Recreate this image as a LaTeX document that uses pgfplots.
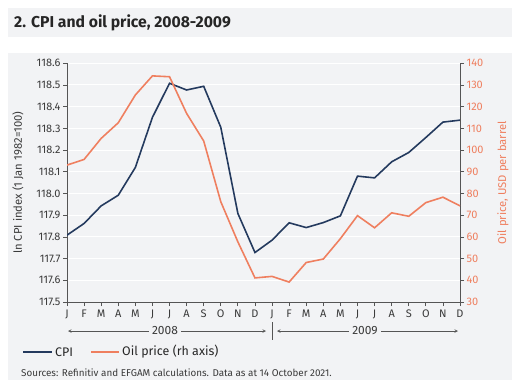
\documentclass[border=0pt]{standalone}
\usepackage{pgfplots}
\pgfplotsset{compat=1.18}
\usepackage{fontspec}
\setmainfont{Fira Sans}
\definecolor{cpi}{HTML}{243A5E}
\definecolor{oil}{HTML}{EF7F5F}
\definecolor{panel}{HTML}{F2F3F5}
\definecolor{axisgrey}{HTML}{555555}
\definecolor{txt}{HTML}{3A3A3A}
\begin{document}
\begin{tikzpicture}[x=1bp,y=1bp]
\path[use as bounding box] (0,0) rectangle (520,384);
\fill[panel] (8,347) rectangle (512,376);
\fill[panel] (8,4) rectangle (512,331);
\node[anchor=base west, inner sep=0pt, font=\fontsize{15.8}{18}\selectfont\bfseries, text=black!85] at (14,356.5) {2. CPI and oil price, 2008-2009};

\pgfplotsset{
  base/.style={
    at={(67bp,82bp)}, anchor=south west, scale only axis,
    width=393bp, height=238.7bp, xmin=0, xmax=23,
    tick align=outside, major tick length=4bp,
    tick style={axisgrey, line width=0.8pt},
    axis line style={axisgrey, line width=0.8pt},
    /pgf/number format/assume math mode=true,
    tick label style={font=\fontsize{11}{13}\selectfont},
  }
}
\begin{axis}[base,
  ymin=117.5, ymax=118.6,
  ytick={117.5,117.6,117.7,117.8,117.9,118.0,118.1,118.2,118.3,118.4,118.5,118.6},
  /pgf/number format/fixed, /pgf/number format/fixed zerofill, /pgf/number format/precision=1,
  yticklabel style={text=txt, xshift=1bp},
  axis x line*=bottom, axis y line*=left,
  xtick={0,...,23},
  xticklabels={J,F,M,A,M,J,J,A,S,O,N,D,J,F,M,A,M,J,J,A,S,O,N,D},
  xticklabel style={text=txt},
  ymajorgrids, grid style={white, line width=1pt},
]
\addplot[cpi, line width=1.6pt] coordinates {
(0,117.808) (1,117.862) (2,117.943) (3,117.992) (4,118.120) (5,118.351)
(6,118.508) (7,118.477) (8,118.494) (9,118.305) (10,117.908) (11,117.728)
(12,117.785) (13,117.865) (14,117.843) (15,117.866) (16,117.897) (17,118.080)
(18,118.072) (19,118.146) (20,118.189) (21,118.258) (22,118.329) (23,118.338)};
\end{axis}
\begin{axis}[base,
  ymin=30, ymax=140,
  ytick={30,40,...,140},
  axis x line=none, axis y line*=right,
  yticklabel style={text=oil, xshift=-1bp},
]
\addplot[oil, line width=1.6pt] coordinates {
(0,93.1) (1,95.7) (2,105.4) (3,112.6) (4,125.4) (5,134.2)
(6,133.8) (7,116.9) (8,104.2) (9,76.2) (10,57.7) (11,41.1)
(12,41.8) (13,39.2) (14,48.2) (15,49.8) (16,59.2) (17,69.8)
(18,64.2) (19,71.1) (20,69.5) (21,75.8) (22,78.3) (23,74.3)};
\end{axis}

% axis titles
\node[rotate=90, font=\fontsize{11.3}{13}\selectfont, text=txt] at (18,201.3) {ln CPI index (1 Jan 1982=100)};
\node[rotate=90, font=\fontsize{11.3}{13}\selectfont, text=oil] at (503,201.3) {Oil price, USD per barrel};

% year annotation
\draw[axisgrey, line width=0.6pt, -stealth] (165,53) -- (68,53);
\draw[axisgrey, line width=0.6pt, -stealth] (165,53) -- (266,53);
\node[fill=panel, inner sep=3pt, font=\fontsize{12}{14}\selectfont, text=txt] at (165,53) {2008};
\draw[axisgrey, line width=0.8pt] (272,62) -- (272,44);
\draw[axisgrey, line width=0.6pt, -stealth] (368,53) -- (277,53);
\draw[axisgrey, line width=0.6pt, -stealth] (368,53) -- (458,53);
\node[fill=panel, inner sep=3pt, font=\fontsize{12}{14}\selectfont, text=txt] at (365,53) {2009};

% legend
\draw[cpi, line width=2pt] (23,32) -- (52,32);
\node[anchor=west, inner sep=0pt, font=\fontsize{12.5}{14}\selectfont, text=black!85] at (55,32) {CPI};
\draw[oil, line width=2pt] (91,32) -- (119,32);
\node[anchor=west, inner sep=0pt, font=\fontsize{12.5}{14}\selectfont, text=black!85] at (122,32) {Oil price (rh axis)};

% sources
\node[anchor=west, inner sep=0pt, font=\fontsize{9.9}{11}\selectfont, text=txt] at (21,11) {Sources: Refinitiv and EFGAM calculations. Data as at 14 October 2021.};
\end{tikzpicture}
\end{document}
